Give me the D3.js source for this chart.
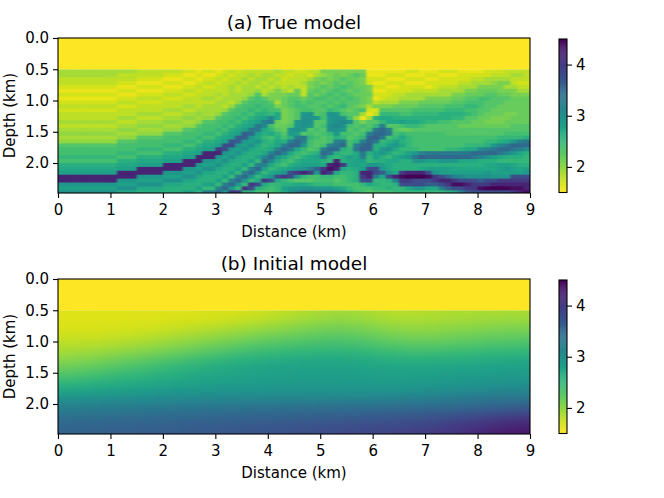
<!DOCTYPE html>
<html>
<head>
<meta charset="utf-8">
<script src="https://d3js.org/d3.v7.min.js"></script>
<style>
  body { margin: 0; background: #fff; }
  text { font-family: "DejaVu Sans", sans-serif; fill: #000; }
</style>
</head>
<body>
<div id="chart"></div>
<script>
const xTicks = [0, 1, 2, 3, 4, 5, 6, 7, 8, 9];
const depthTicks = [0, 0.5, 1, 1.5, 2];
const barTicks = [2, 3, 4];
const velocityRange = [1.5, 4.5];
const maxDepth = 2.48;
const waterBand = [0, 0.5];
const waterVelocity = 1.5;

// velocity below the water layer, km/s x 10, 0.125 km columns and 0.0625 km rows from 0.5 km
const trueColStep = 0.125;
const trueRowStep = 0.0625;
const trueRows = [
[19,19,19,19,19,19,19,19,19, 19,19,19, 18,18,18,18, 18,18,18, 17,17, 16, 17,17, 16,17,18,17,18,18,18, 18,18,19, 18,18,17,17,18,18, 21,21,21,21,21,21,21,16, 16,16,16,16,16,17,17,16, 16,16,17,17,17,16,16,16, 16,17,17,17,18,18,18,18],
[19,19,19,19,19,19,19,19,19, 18,18,18, 18,18,18,18, 17,17,17, 16,16, 17, 16,16, 17,18,17,18,18,19,18, 19,19,18, 18,17,18,18,17,19, 20,21,22,21,22,23,22,16, 16,16,17,17,17,16,16,16, 17,17,16,16,16,17,17,17, 17,17,18,18,18,19,19,18],
[18,18,18,18,18,18,18,18,18, 18,18,18, 17,17,17,17, 16,16,16, 17,17, 16, 17,17, 18,17,18,18,19,18,19, 19,18,19, 17,18,18,18,19,21, 22,21,22,23,22,22,21,17, 17,17,16,16,16,17,17,17, 16,16,17,17,17,17,17,18, 18,19,19,19,19,18,18,18],
[18,18,18,18,18,18,18,18,18, 17,17,17, 16,16,16,16, 17,17,17, 16,16, 17, 18,18, 17,18,18,19,18,19,19, 18,19,18, 18,18,18,19,21,22, 21,22,23,22,23,22,21,17, 16,16,17,17,17,16,16,16, 17,17,17,17,17,18,18,19, 19,19,20,21,21,18,17,17],
[17,17,17,17,17,17,17,17,17, 16,16,16, 17,17,17,17, 16,16,16, 17,17, 18, 17,17, 18,18,19,18,19,19,18, 19,18,19, 18,19,18,18,21,22, 23,22,23,24,23,22,22,21, 17,17,16,16,17,17,17,17, 16,17,18,18,18,19,19,19, 21,21,21,21,19,19,18,18],
[16,16,16,16,16,16,16,16,16, 17,17,17, 16,16,16,16, 17,17,17, 18,18, 17, 18,18, 18,18,19,18,19,19,20, 18,19,21, 19,18,22,18,22,23, 22,23,24,23,22,23,22,21, 16,16,17,17,17,17,18,18, 18,18,19,19,19,19,21,21, 22,22,22,21,21,21,19,19],
[17,17,17,17,17,17,17,17,17, 16,16,16, 17,17,17,17, 18,18,18, 17,17, 18, 18,18, 19,18,19,19,19,20,23, 19,21,21, 21,22,22,18,23,22, 23,24,23,24,23,22,22,22, 17,17,17,18,18,19,19,19, 19,19,19,19,21,21,22,22, 22,23,23,22,22,21,21,21],
[16,16,16,16,16,16,16,16,16, 17,17,17, 18,18,18,18, 17,17,17, 18,18, 18, 19,19, 18,19,19,19,20,23,24, 23,21,21, 22,23,23,22,23,24, 24,23,24,23,24,23,22,21, 16,17,18,18,19,19,19,19, 21,21,21,21,22,22,23,23, 24,24,23,23,23,22,22,22],
[17,17,17,17,17,17,17,17,17, 18,18,18, 17,17,17,17, 18,18,18, 18,18, 18, 18,18, 19,19,18,20,23,24,24, 24,23,19, 22,23,24,23,24,23, 23,24,23,24,23,23,22,21, 18,19,19,19,21,21,21,22, 22,22,22,22,23,23,24,24, 24,23,23,23,22,22,22,22],
[18,18,18,18,18,18,18,18,18, 17,17,17, 18,18,18,18, 18,18,18, 19,19, 18, 19,19, 19,18,20,23,24,24,25, 24,24,21, 22,23,24,24,23,23, 24,23,24,25,23,22,21,19, 21,21,21,22,22,22,22,23, 23,23,23,24,24,24,25,25, 24,23,23,22,22,22,22,22],
[17,17,17,17,17,17,17,17,17, 18,18,18, 18,18,18,18, 19,19,19, 18,18, 19, 19,19, 19,20,23,24,24,25,24, 25,24,24, 21,22,23,24,24,23, 23,25,24,23,22,23,24,17, 17,23,23,23,23,23,24,24, 24,24,24,25,25,25,24,24, 23,23,22,22,22,22,22,22],
[18,18,18,18,18,18,18,18,18, 18,18,18, 19,19,19,19, 18,18,18, 19,19, 20, 19,19, 20,23,24,24,25,24,26, 26,25,27, 21,22,23,29,30,23, 24,30,29,24,23,23,19,16, 18,25,25,25,24,24,25,25, 25,25,26,26,26,26,25,24, 23,22,22,22,21,21,22,22],
[18,18,18,18,18,18,18,18,18, 19,19,19, 18,18,18,18, 19,19,19, 20,20, 19, 20,20, 23,24,24,25,24,26,27, 28,31,27, 21,22,23,30,30,29, 24,29,30,30,24,20,16,19, 26,27,27,26,26,26,26,26, 26,26,26,26,25,25,23,23, 22,22,21,21,21,22,22,22],
[19,19,19,19,19,19,19,19,19, 18,18,18, 19,19,19,19, 20,20,20, 19,19, 20, 23,23, 24,24,25,24,26,27,28, 32,33,22, 21,22,29,30,30,23, 23,29,30,31,30,23,21,23, 23,25,27,27,28,27,27,26, 25,25,24,24,23,23,23,22, 22,21,21,21,22,22,22,22],
[18,18,18,18,18,18,18,18,18, 19,19,19, 20,20,20,20, 19,19,19, 20,20, 23, 24,24, 24,25,24,26,27,28,33, 31,24,22, 22,23,29,30,29,23, 24,30,31,30,24,23,24,23, 25,32,23,23,24,25,25,24, 23,23,23,23,23,22,22,22, 22,22,22,22,22,23,23,23],
[19,19,19,19,19,19,19,19,19, 20,20,20, 19,19,19,19, 20,20,20, 23,23, 24, 24,24, 25,24,26,27,28,33,33, 27,25,23, 22,29,30,29,23,24, 23,30,30,29,23,24,23,24, 33,35,32,23,22,22,23,23, 23,23,23,23,23,23,23,23, 23,23,23,23,23,23,23,23],
[20,20,20,20,20,20,20,20,20, 19,19,19, 20,20,20,20, 23,23,23, 24,24, 24, 25,25, 24,26,27,28,36,35,28, 26,27,25, 23,29,28,23,24,23, 24,25,29,24,24,23,24,32, 35,35,33,24,25,24,24,24, 24,24,24,23,23,23,23,23, 23,23,23,23,24,24,24,24],
[19,19,19,19,19,19,19,19,19, 20,20,20, 23,23,23,23, 24,24,24, 24,24, 25, 24,24, 26,27,28,36,36,29,27, 25,24,26, 24,26,32,33,25,24, 23,24,26,25,23,24,25,35, 36,33,24,25,27,25,24,24, 24,24,24,24,24,24,24,24, 24,24,24,25,25,25,25,26],
[20,20,20,20,20,20,20,20,20, 23,23,23, 24,24,24,24, 24,24,24, 25,25, 24, 26,26, 27,28,37,36,29,28,30, 26,25,27, 26,32,35,32,24,23, 23,24,32,33,24,25,32,35, 33,25,26,28,26,25,24,24, 24,24,24,24,24,24,24,24, 24,25,25,26,27,29,32,33],
[23,23,23,23,23,23,23,23,23, 24,24,24, 24,24,24,24, 25,25,25, 24,24, 26, 27,27, 28,38,38,29,28,30,27, 25,26,27, 32,35,35,29,24,23, 24,32,33,35,24,32,35,36, 26,26,28,29,27,25,24,24, 24,24,24,24,24,24,25,25, 25,26,29,31,33,35,35,35],
[24,24,24,24,24,24,24,24,24, 24,24,24, 25,25,25,25, 24,24,24, 26,26, 27, 28,28, 40,38,29,28,30,27,26, 26,27,32, 35,33,27,25,23,24, 32,35,35,26,25,33,36,35, 26,29,30,27,25,25,25,24, 24,24,24,25,25,26,27,27, 31,32,33,35,35,33,32,30],
[24,24,24,24,24,24,24,24,24, 25,25,25, 24,24,24,24, 26,26,26, 27,27, 28, 42,42, 42,29,28,30,27,26,26, 27,32,35, 32,27,25,24,25,26, 35,33,26,25,25,27,33,26, 28,29,27,25,26,28,29,32, 33,33,33,33,33,33,33,35, 35,35,35,33,31,29,27,26],
[25,25,25,25,25,25,25,25,25, 24,24,24, 26,26,26,26, 27,27,27, 28,28, 42, 42,42, 29,28,30,27,26,26,28, 31,35,29, 27,25,24,26,27,28, 32,26,25,26,28,27,32,25, 28,26,25,27,28,29,33,36, 35,35,35,35,35,35,35,33, 32,30,28,27,26,26,26,25],
[24,24,24,24,24,24,24,24,24, 26,26,26, 27,27,27,27, 28,28,28, 42,42, 42, 29,29, 28,30,27,26,26,28,25, 35,31,27, 25,24,26,27,27,27, 26,25,42,26,27,28,28,25, 26,26,27,27,26,26,29,29, 28,28,29,29,29,27,27,27, 26,26,26,25,25,25,25,25],
[26,26,26,26,26,26,26,26,26, 27,27,27, 28,28,28,28, 42,42,42, 42,42, 29, 28,28, 30,27,26,26,28,25,32, 32,27,25, 24,26,27,28,28,28, 27,42,43,40,27,28,27,29, 29,28,27,26,26,26,26,26, 26,26,26,26,26,26,26,26, 26,27,27,28,28,27,26,26],
[27,27,27,27,27,27,27,27,27, 28,28,28, 42,42,42,42, 42,42,42, 29,29, 28, 30,30, 27,26,26,28,25,32,35, 28,25,26, 27,28,29,30,32,36, 40,44,42,27,26,27,28,38, 38,29,27,26,26,26,26,27, 28,28,28,28,27,27,27,27, 27,27,27,28,29,28,27,28],
[28,28,28,28,28,28,28,28,28, 42,42,42, 42,42,42,42, 29,29,29, 28,28, 30, 27,27, 26,26,28,25,32,35,29, 25,27,28, 29,38,40,42,40,29, 42,40,27,25,25,26,42,42, 38,36,29,27,40,42,42,42, 38,29,28,28,28,28,28,28, 28,29,28,28,28,28,28,29],
[42,42,42,42,42,42,42,42,42, 42,42,42, 29,29,29,29, 28,28,28, 30,30, 27, 26,26, 26,28,25,32,35,29,25, 27,29,38, 40,38,29,25,24,24, 25,25,24,24,25,26,40,42, 32,27,38,42,44,45,45,45, 44,40,38,35,32,31,30,30, 30,30,29,29,29,38,38,38],
[42,42,42,42,42,42,42,42,42, 29,29,29, 28,28,28,28, 30,30,30, 27,27, 26, 26,26, 28,25,32,35,29,25,27, 40,38,27, 25,24,23,23,23,24, 24,24,23,24,25,26,38,38, 25,25,26,32,40,40,38,38, 38,40,42,42,40,38,38,38, 36,38,38,40,40,40,40,40],
[29,29,29,29,29,29,29,29,29, 28,28,28, 30,30,30,30, 27,27,27, 26,26, 26, 28,28, 25,32,35,29,25,40,38, 27,25,25, 26,26,27,27,26,25, 25,25,24,24,24,24,25,27, 26,25,25,26,38,38,38,38, 36,36,38,40,44,44,42,40, 40,40,42,42,42,42,42,42],
[28,28,28,28,28,28,28,28,28, 30,30,30, 27,27,27,27, 26,26,26, 26,26, 28, 25,25, 32,35,29,25,40,38,26, 25,24,25, 28,29,29,30,30,29, 29,29,28,27,25,24,24,24, 25,25,26,25,25,27,29,29, 27,27,32,36,38,38,40,40, 44,45,45,45,45,44,44,42],
[30,30,30,30,30,30,30,30,30, 27,27,27, 26,26,26,26, 26,26,26, 28,28, 25, 32,32, 35,29,40,40,26,26,24, 24,24,25, 27,30,32,33,33,33, 33,33,32,30,27,25,24,23, 24,24,24,25,25,25,25,25, 25,25,25,26,27,32,36,38, 38,38,38,38,38,40,42,44]
];

// smooth starting model, km/s, 0.5 km columns and 0.125 km rows from 0.5 km
const initColStep = 0.5;
const initRowStep = 0.125;
const initRows = [
[1.65,1.65,1.65,1.65,1.65,1.66,1.68,1.72,1.78,1.85,1.93,1.90,1.82,1.82,1.85,1.87,1.88,1.88],
[1.66,1.66,1.66,1.67,1.69,1.72,1.76,1.82,1.90,1.98,2.05,2.02,1.92,1.90,1.92,1.95,1.98,2.00],
[1.68,1.68,1.70,1.73,1.78,1.84,1.90,1.98,2.05,2.12,2.17,2.15,2.04,2.00,2.02,2.06,2.10,2.12],
[1.75,1.75,1.78,1.83,1.90,1.97,2.05,2.14,2.20,2.26,2.30,2.27,2.17,2.13,2.14,2.18,2.22,2.24],
[1.83,1.85,1.90,1.96,2.04,2.12,2.22,2.31,2.37,2.41,2.44,2.42,2.33,2.28,2.29,2.33,2.37,2.40],
[1.93,1.97,2.04,2.12,2.20,2.30,2.40,2.48,2.53,2.56,2.58,2.56,2.49,2.45,2.46,2.50,2.53,2.56],
[2.06,2.13,2.21,2.30,2.40,2.50,2.58,2.65,2.69,2.71,2.72,2.70,2.66,2.63,2.64,2.67,2.70,2.72],
[2.20,2.28,2.37,2.45,2.55,2.63,2.70,2.75,2.78,2.79,2.80,2.78,2.75,2.74,2.75,2.77,2.79,2.82],
[2.37,2.45,2.53,2.60,2.67,2.72,2.77,2.80,2.82,2.84,2.85,2.84,2.82,2.82,2.84,2.86,2.88,2.90],
[2.57,2.63,2.69,2.73,2.77,2.82,2.84,2.86,2.87,2.88,2.88,2.87,2.86,2.88,2.91,2.94,2.97,2.99],
[2.80,2.83,2.87,2.90,2.93,2.95,2.97,2.98,2.99,3.00,3.00,3.00,3.00,3.03,3.07,3.11,3.15,3.17],
[3.03,3.05,3.08,3.10,3.12,3.14,3.16,3.18,3.19,3.20,3.21,3.21,3.22,3.25,3.28,3.32,3.37,3.40],
[3.22,3.24,3.27,3.29,3.30,3.32,3.34,3.36,3.38,3.40,3.42,3.44,3.45,3.45,3.47,3.50,3.55,3.65],
[3.39,3.41,3.44,3.46,3.48,3.50,3.52,3.54,3.56,3.58,3.60,3.62,3.65,3.68,3.73,3.80,3.87,3.95],
[3.49,3.51,3.53,3.55,3.57,3.59,3.61,3.63,3.66,3.69,3.72,3.75,3.78,3.82,3.87,3.95,4.05,4.18],
[3.57,3.59,3.61,3.63,3.65,3.67,3.70,3.73,3.76,3.80,3.83,3.87,3.90,3.95,4.00,4.08,4.22,4.32]
];

const width = 664;
const height = 498;
const margin = { left: 58, right: 530 };
const panels = [
  { id: 'a', title: '(a) True model', top: 38, bottom: 193 },
  { id: 'b', title: '(b) Initial model', top: 279, bottom: 434 }
];

const color = d3.scaleSequential(v => d3.interpolateViridis(1 - v)).domain(velocityRange);

const svg = d3.select('#chart').append('svg')
  .attr('width', width)
  .attr('height', height)
  .style('display', 'block');

const defs = svg.append('defs');

function addBlur(id, sx, sy) {
  const f = defs.append('filter').attr('id', id)
    .attr('x', '-5%').attr('y', '-10%').attr('width', '110%').attr('height', '120%')
    .attr('color-interpolation-filters', 'sRGB');
  f.append('feGaussianBlur').attr('stdDeviation', sx + ' ' + sy);
  // blur fades alpha at the edge, the colour is still fine so push alpha back up
  f.append('feComponentTransfer').append('feFuncA').attr('type', 'linear').attr('slope', 50);
}
addBlur('soft-a', 0.9, 0.6);
addBlur('soft-b', 16, 5);

function drawCells(g, rows, colStep, rowStep, x, y, scale) {
  rows.forEach((row, r) => {
    g.selectAll(null)
      .data(row)
      .enter().append('rect')
      .attr('x', (d, c) => x(c * colStep))
      .attr('y', y(waterBand[1] + r * rowStep))
      .attr('width', (d, c) => x((c + 1) * colStep) - x(c * colStep) + 0.5)
      .attr('height', y(waterBand[1] + (r + 1) * rowStep) - y(waterBand[1] + r * rowStep) + 0.5)
      .attr('fill', d => color(d * scale));
  });
}

panels.forEach(p => {
  const x = d3.scaleLinear().domain([0, 9]).range([margin.left, margin.right]);
  const y = d3.scaleLinear().domain([0, maxDepth]).range([p.top, p.bottom]);
  const g = svg.append('g');

  defs.append('clipPath').attr('id', 'clip-' + p.id)
    .append('rect')
    .attr('x', x(0)).attr('y', y(waterBand[1]))
    .attr('width', x(9) - x(0)).attr('height', y(maxDepth) - y(waterBand[1]));

  const clipped = g.append('g').attr('clip-path', 'url(#clip-' + p.id + ')');
  const cells = clipped.append('g').attr('filter', 'url(#soft-' + p.id + ')');
  if (p.id === 'a') drawCells(cells, trueRows, trueColStep, trueRowStep, x, y, 0.1);
  else drawCells(cells, initRows, initColStep, initRowStep, x, y, 1);

  g.append('rect')
    .attr('x', x(0)).attr('y', y(waterBand[0]))
    .attr('width', x(9) - x(0)).attr('height', y(waterBand[1]) - y(waterBand[0]))
    .attr('fill', color(waterVelocity));

  const xAxis = g.append('g')
    .attr('transform', 'translate(0,' + p.bottom + ')')
    .call(d3.axisBottom(x).tickValues(xTicks).tickFormat(d3.format('d')).tickSize(5).tickSizeOuter(0).tickPadding(6));
  const yAxis = g.append('g')
    .attr('transform', 'translate(' + margin.left + ',0)')
    .call(d3.axisLeft(y).tickValues(depthTicks).tickFormat(d3.format('.1f')).tickSize(5).tickSizeOuter(0).tickPadding(4));
  [xAxis, yAxis].forEach(a => {
    a.selectAll('text').style('font-size', '15px').style('font-family', '"DejaVu Sans"');
    a.selectAll('line').attr('stroke', '#000').attr('stroke-width', 1.1);
    a.select('.domain').remove();
  });

  g.append('rect')
    .attr('x', x(0)).attr('y', p.top)
    .attr('width', x(9) - x(0)).attr('height', p.bottom - p.top)
    .attr('fill', 'none').attr('stroke', '#000').attr('stroke-width', 1.1);

  g.append('text')
    .attr('x', (x(0) + x(9)) / 2).attr('y', p.top - 9)
    .attr('text-anchor', 'middle').style('font-size', '18.5px')
    .text(p.title);
  g.append('text')
    .attr('x', (x(0) + x(9)) / 2).attr('y', p.bottom + 44)
    .attr('text-anchor', 'middle').style('font-size', '15px')
    .text('Distance (km)');
  g.append('text')
    .attr('transform', 'translate(15,' + (p.top + p.bottom) / 2 + ') rotate(-90)')
    .attr('text-anchor', 'middle').style('font-size', '15px')
    .text('Depth (km)');

  // colorbar
  const barY = d3.scaleLinear().domain(velocityRange).range([p.bottom - 0.5, p.top + 1]);
  const barX = 559;
  const barW = 8;
  const bar = g.append('g');
  bar.selectAll('rect')
    .data(d3.range(0, 150))
    .enter().append('rect')
    .attr('x', barX)
    .attr('y', d => barY(velocityRange[0] + (d + 1) * 0.02))
    .attr('width', barW)
    .attr('height', d => barY(velocityRange[0] + d * 0.02) - barY(velocityRange[0] + (d + 1) * 0.02) + 0.4)
    .attr('fill', d => color(velocityRange[0] + (d + 0.5) * 0.02));
  bar.append('rect')
    .attr('x', barX).attr('y', barY(velocityRange[1]))
    .attr('width', barW).attr('height', barY(velocityRange[0]) - barY(velocityRange[1]))
    .attr('fill', 'none').attr('stroke', '#000').attr('stroke-width', 1.1);
  const barAxis = g.append('g')
    .attr('transform', 'translate(' + (barX + barW) + ',0)')
    .call(d3.axisRight(barY).tickValues(barTicks).tickFormat(d3.format('d')).tickSize(5).tickSizeOuter(0).tickPadding(4));
  barAxis.selectAll('text').style('font-size', '15px').style('font-family', '"DejaVu Sans"');
  barAxis.selectAll('line').attr('stroke', '#000').attr('stroke-width', 1.1);
  barAxis.select('.domain').remove();
});
</script>
</body>
</html>
